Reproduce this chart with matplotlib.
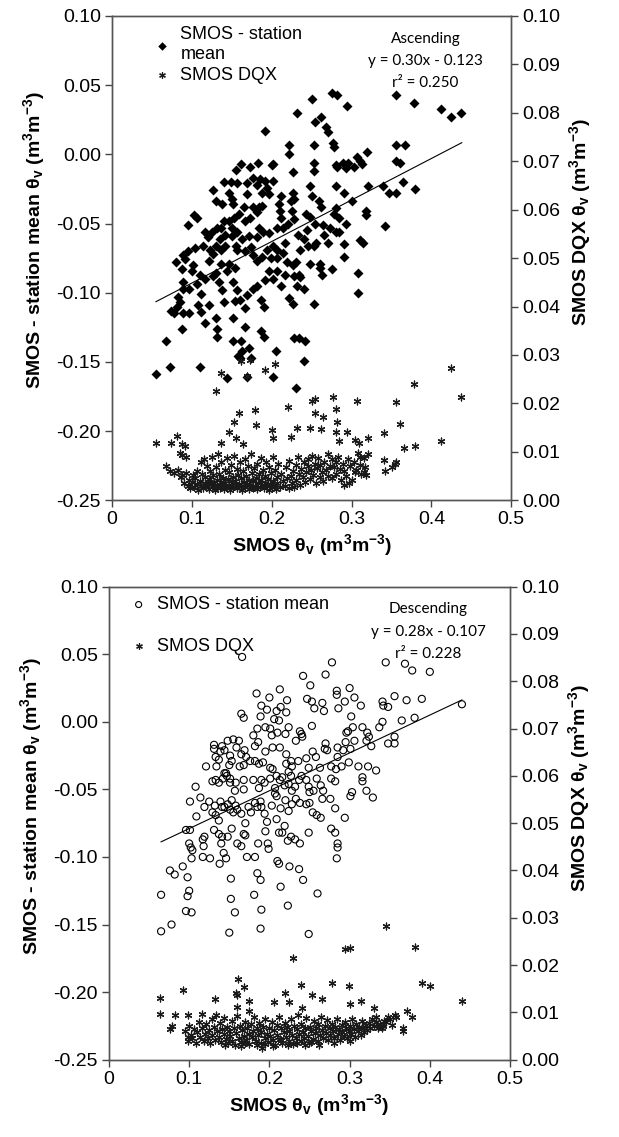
import numpy as np
import matplotlib.pyplot as plt
from matplotlib.ticker import FuncFormatter

plt.rcParams['font.family'] = ['Liberation Sans', 'DejaVu Sans']
plt.rcParams['mathtext.fontset'] = 'custom'
plt.rcParams['mathtext.rm'] = 'Liberation Sans:bold'
plt.rcParams['mathtext.it'] = 'Liberation Sans:bold'
plt.rcParams['mathtext.bf'] = 'Liberation Sans:bold'
plt.rcParams['mathtext.default'] = 'rm'

# ---- ascending: SMOS - station mean (x, y)
asc_mean = np.array([
    (0.251, 0.040), (0.275, 0.044), (0.282, 0.043), (0.294, 0.035), (0.232, 0.030),
    (0.262, 0.027), (0.254, 0.023), (0.268, 0.020), (0.271, 0.016), (0.191, 0.017),
    (0.356, 0.043), (0.378, 0.037), (0.412, 0.033), (0.425, 0.027), (0.437, 0.030),
    (0.355, 0.007), (0.367, 0.007), (0.221, 0.007), (0.253, 0.007), (0.277, 0.008),
    (0.278, 0.005), (0.221, 0.000), (0.227, -0.013), (0.253, -0.006), (0.253, -0.012),
    (0.280, -0.008), (0.282, -0.009), (0.289, -0.006), (0.293, -0.010), (0.296, -0.006),
    (0.303, -0.009), (0.307, -0.002), (0.310, -0.005), (0.313, -0.007), (0.319, 0.002),
    (0.321, -0.023), (0.339, -0.023), (0.347, -0.028), (0.356, -0.028), (0.355, -0.005),
    (0.360, -0.006), (0.365, -0.020), (0.380, -0.025), (0.342, -0.052), (0.310, -0.062),
    (0.314, -0.064), (0.318, -0.041), (0.318, -0.044), (0.308, -0.086), (0.308, -0.100),
    (0.300, -0.034), (0.290, -0.028), (0.293, -0.050), (0.291, -0.065), (0.291, -0.074),
    (0.281, -0.023), (0.280, -0.039), (0.278, -0.043), (0.284, -0.046), (0.281, -0.056),
    (0.284, -0.056), (0.271, -0.064), (0.273, -0.053), (0.275, -0.083), (0.264, -0.051),
    (0.266, -0.058), (0.262, -0.038), (0.259, -0.034), (0.251, -0.030), (0.248, -0.023),
    (0.254, -0.050), (0.253, -0.066), (0.256, -0.064), (0.248, -0.045), (0.243, -0.043),
    (0.244, -0.055), (0.241, -0.061), (0.233, -0.058), (0.228, -0.047), (0.226, -0.028),
    (0.224, -0.034), (0.228, -0.032), (0.225, -0.041), (0.220, -0.050), (0.212, -0.046),
    (0.210, -0.041), (0.209, -0.036), (0.211, -0.030), (0.201, -0.019), (0.200, -0.008),
    (0.202, -0.007), (0.183, -0.006), (0.173, -0.009), (0.161, -0.007), (0.155, -0.011),
    (0.140, -0.020), (0.149, -0.020), (0.156, -0.021), (0.126, -0.026), (0.130, -0.034),
    (0.138, -0.036), (0.147, -0.028), (0.150, -0.032), (0.152, -0.036), (0.169, -0.021),
    (0.169, -0.029), (0.165, -0.038), (0.177, -0.017), (0.181, -0.022), (0.185, -0.018),
    (0.188, -0.028), (0.191, -0.019), (0.194, -0.024), (0.196, -0.029), (0.188, -0.037),
    (0.184, -0.038), (0.182, -0.042), (0.176, -0.038), (0.173, -0.046), (0.167, -0.048),
    (0.159, -0.043), (0.153, -0.046), (0.147, -0.048), (0.140, -0.048), (0.137, -0.053),
    (0.131, -0.053), (0.125, -0.056), (0.116, -0.056), (0.107, -0.046), (0.103, -0.044),
    (0.095, -0.051), (0.120, -0.060), (0.123, -0.069), (0.114, -0.066), (0.104, -0.068),
    (0.095, -0.070), (0.089, -0.073), (0.080, -0.078), (0.091, -0.076), (0.101, -0.080),
    (0.087, -0.083), (0.100, -0.084), (0.089, -0.092), (0.089, -0.097), (0.083, -0.103),
    (0.085, -0.107), (0.081, -0.110), (0.074, -0.113), (0.078, -0.115), (0.089, -0.115),
    (0.097, -0.115), (0.088, -0.126), (0.068, -0.135), (0.073, -0.154), (0.055, -0.159),
    (0.110, -0.087), (0.116, -0.090), (0.106, -0.094), (0.096, -0.097), (0.112, -0.101),
    (0.108, -0.109), (0.122, -0.109), (0.112, -0.114), (0.116, -0.122), (0.130, -0.118),
    (0.131, -0.126), (0.131, -0.132), (0.110, -0.154), (0.127, -0.088), (0.134, -0.092),
    (0.138, -0.098), (0.140, -0.107), (0.144, -0.084), (0.147, -0.079), (0.154, -0.082),
    (0.152, -0.092), (0.157, -0.098), (0.154, -0.106), (0.160, -0.105), (0.151, -0.118),
    (0.152, -0.135), (0.166, -0.125), (0.162, -0.135), (0.163, -0.142), (0.160, -0.147),
    (0.158, -0.146), (0.174, -0.147), (0.172, -0.140), (0.169, -0.161), (0.144, -0.162),
    (0.167, -0.111), (0.169, -0.102), (0.177, -0.097), (0.182, -0.095), (0.187, -0.105),
    (0.190, -0.110), (0.187, -0.128), (0.190, -0.132), (0.205, -0.142), (0.202, -0.161),
    (0.228, -0.133), (0.234, -0.133), (0.242, -0.135), (0.240, -0.149), (0.230, -0.169),
    (0.253, -0.108), (0.240, -0.097), (0.232, -0.095), (0.221, -0.104), (0.226, -0.108),
    (0.211, -0.095), (0.201, -0.090), (0.206, -0.084), (0.196, -0.084), (0.191, -0.091),
    (0.188, -0.074), (0.181, -0.077), (0.177, -0.073), (0.174, -0.067), (0.167, -0.070),
    (0.157, -0.069), (0.163, -0.061), (0.171, -0.059), (0.182, -0.060), (0.184, -0.053),
    (0.189, -0.056), (0.196, -0.057), (0.201, -0.066), (0.206, -0.069), (0.214, -0.071),
    (0.219, -0.078), (0.226, -0.080), (0.230, -0.078), (0.234, -0.087), (0.236, -0.089),
    (0.228, -0.088), (0.216, -0.087), (0.206, -0.075), (0.199, -0.075), (0.194, -0.069),
    (0.206, -0.053), (0.214, -0.053), (0.217, -0.064), (0.236, -0.069), (0.246, -0.066),
    (0.248, -0.079), (0.261, -0.082), (0.263, -0.087), (0.261, -0.079), (0.142, -0.066),
    (0.137, -0.069), (0.135, -0.061), (0.130, -0.066), (0.127, -0.072), (0.122, -0.077),
    (0.137, -0.079), (0.130, -0.086), (0.150, -0.059), (0.155, -0.066), (0.157, -0.056),
    (0.150, -0.053), (0.142, -0.058),
])

# ---- ascending: SMOS DQX (x, dqx)
asc_dqx = np.array([
    (0.130, 0.0226), (0.136, 0.0263), (0.173, 0.0289), (0.162, 0.0287), (0.169, 0.0256),
    (0.192, 0.0268), (0.204, 0.0282), (0.425, 0.0274), (0.378, 0.0241), (0.437, 0.0214),
    (0.220, 0.0193), (0.251, 0.0204), (0.254, 0.0209), (0.277, 0.0213), (0.307, 0.0204),
    (0.356, 0.0203), (0.159, 0.0181), (0.179, 0.0186), (0.254, 0.0181), (0.264, 0.0171),
    (0.280, 0.0189), (0.153, 0.0162), (0.180, 0.0156), (0.282, 0.0162), (0.360, 0.0158),
    (0.146, 0.0140), (0.155, 0.0129), (0.200, 0.0145), (0.201, 0.0128), (0.232, 0.0149),
    (0.248, 0.0149), (0.262, 0.0147), (0.224, 0.0130), (0.281, 0.0140), (0.294, 0.0140),
    (0.284, 0.0123), (0.304, 0.0125), (0.321, 0.0128), (0.309, 0.0119), (0.340, 0.0138),
    (0.366, 0.0108), (0.380, 0.0112), (0.412, 0.0122), (0.055, 0.0119), (0.074, 0.0118),
    (0.081, 0.0133), (0.088, 0.0116), (0.091, 0.0112), (0.136, 0.0119), (0.164, 0.0116),
    (0.088, 0.0094), (0.093, 0.0090), (0.085, 0.0097), (0.068, 0.0071), (0.078, 0.0057),
    (0.088, 0.0053), (0.073, 0.0060), (0.340, 0.0083), (0.342, 0.0060), (0.350, 0.0068),
    (0.354, 0.0075), (0.356, 0.0079),
    (0.083, 0.0062), (0.086, 0.0048), (0.090, 0.0035), (0.092, 0.0056), (0.095, 0.0030),
    (0.097, 0.0042), (0.098, 0.0025), (0.100, 0.0038), (0.101, 0.0052), (0.103, 0.0028),
    (0.104, 0.0045), (0.106, 0.0033), (0.107, 0.0060), (0.108, 0.0022), (0.110, 0.0040),
    (0.111, 0.0078), (0.112, 0.0030), (0.113, 0.0055), (0.114, 0.0025), (0.115, 0.0085),
    (0.116, 0.0036), (0.117, 0.0048), (0.118, 0.0028), (0.119, 0.0070), (0.120, 0.0033),
    (0.121, 0.0043), (0.122, 0.0024), (0.123, 0.0060), (0.124, 0.0038), (0.125, 0.0090),
    (0.126, 0.0029), (0.127, 0.0052), (0.128, 0.0035), (0.129, 0.0022), (0.130, 0.0068),
    (0.131, 0.0041), (0.132, 0.0030), (0.133, 0.0095), (0.134, 0.0055), (0.135, 0.0026),
    (0.136, 0.0037), (0.137, 0.0080), (0.138, 0.0032), (0.139, 0.0047), (0.140, 0.0024),
    (0.141, 0.0062), (0.142, 0.0035), (0.143, 0.0028), (0.144, 0.0088), (0.145, 0.0044),
    (0.146, 0.0030), (0.147, 0.0058), (0.148, 0.0022), (0.149, 0.0072), (0.150, 0.0036),
    (0.151, 0.0049), (0.152, 0.0027), (0.153, 0.0092), (0.154, 0.0040), (0.155, 0.0031),
    (0.156, 0.0065), (0.157, 0.0025), (0.158, 0.0053), (0.159, 0.0034), (0.160, 0.0078),
    (0.161, 0.0029), (0.162, 0.0045), (0.163, 0.0022), (0.164, 0.0060), (0.165, 0.0038),
    (0.166, 0.0085), (0.167, 0.0027), (0.168, 0.0050), (0.169, 0.0033), (0.170, 0.0070),
    (0.171, 0.0024), (0.172, 0.0042), (0.173, 0.0031), (0.174, 0.0095), (0.175, 0.0056),
    (0.176, 0.0026), (0.177, 0.0039), (0.178, 0.0066), (0.179, 0.0030), (0.180, 0.0047),
    (0.181, 0.0023), (0.182, 0.0075), (0.183, 0.0035), (0.184, 0.0054), (0.185, 0.0028),
    (0.186, 0.0088), (0.187, 0.0041), (0.188, 0.0032), (0.189, 0.0062), (0.190, 0.0025),
    (0.191, 0.0050), (0.192, 0.0036), (0.193, 0.0080), (0.194, 0.0029), (0.195, 0.0044),
    (0.196, 0.0022), (0.197, 0.0068), (0.198, 0.0034), (0.199, 0.0057), (0.200, 0.0027),
    (0.201, 0.0090), (0.202, 0.0040), (0.203, 0.0030), (0.204, 0.0063), (0.205, 0.0024),
    (0.206, 0.0048), (0.207, 0.0035), (0.208, 0.0075), (0.210, 0.0028),
    (0.212, 0.0055), (0.214, 0.0040), (0.216, 0.0030), (0.218, 0.0068), (0.219, 0.0045),
    (0.221, 0.0025), (0.222, 0.0082), (0.224, 0.0050), (0.225, 0.0035), (0.227, 0.0060),
    (0.228, 0.0028), (0.230, 0.0072), (0.231, 0.0042), (0.233, 0.0090), (0.234, 0.0055),
    (0.236, 0.0032), (0.237, 0.0065), (0.239, 0.0048), (0.240, 0.0078), (0.242, 0.0038),
    (0.243, 0.0058), (0.245, 0.0085), (0.246, 0.0070), (0.248, 0.0044), (0.249, 0.0062),
    (0.251, 0.0092), (0.252, 0.0052), (0.254, 0.0075), (0.255, 0.0036), (0.257, 0.0066),
    (0.258, 0.0088), (0.260, 0.0048), (0.261, 0.0072), (0.263, 0.0058), (0.264, 0.0040),
    (0.266, 0.0080), (0.268, 0.0062), (0.270, 0.0095), (0.271, 0.0050), (0.273, 0.0070),
    (0.275, 0.0085), (0.276, 0.0045), (0.278, 0.0068), (0.280, 0.0078), (0.281, 0.0055),
    (0.283, 0.0090), (0.285, 0.0065), (0.287, 0.0042), (0.289, 0.0075), (0.291, 0.0060),
    (0.293, 0.0050), (0.296, 0.0085), (0.298, 0.0070), (0.300, 0.0042), (0.303, 0.0080),
    (0.305, 0.0062), (0.308, 0.0098), (0.310, 0.0072), (0.312, 0.0055), (0.315, 0.0088),
    (0.317, 0.0068), (0.318, 0.0052), (0.320, 0.0095), (0.297, 0.0035), (0.290, 0.0032),
    (0.304, 0.0058), (0.316, 0.0058), (0.311, 0.0090),
])

# ---- descending: SMOS - station mean (x, y)
desc_mean = np.array([
    (0.166, 0.048), (0.278, 0.044), (0.345, 0.044), (0.369, 0.043), (0.378, 0.038),
    (0.400, 0.037), (0.242, 0.034), (0.270, 0.035), (0.251, 0.027), (0.213, 0.024),
    (0.300, 0.025), (0.284, 0.023), (0.184, 0.021), (0.200, 0.018), (0.222, 0.016),
    (0.247, 0.017), (0.253, 0.015), (0.284, 0.020), (0.294, 0.015), (0.306, 0.018),
    (0.356, 0.019), (0.371, 0.016), (0.390, 0.017), (0.341, 0.015), (0.342, 0.012),
    (0.348, 0.011), (0.440, 0.013), (0.190, 0.012), (0.214, 0.011), (0.209, 0.008),
    (0.221, 0.007), (0.197, 0.009), (0.266, 0.014), (0.268, 0.008), (0.256, 0.010),
    (0.286, 0.010), (0.314, 0.012), (0.165, 0.006), (0.168, 0.003), (0.381, 0.003),
    (0.365, 0.001), (0.302, 0.004), (0.189, 0.004), (0.206, 0.002), (0.212, 0.001),
    (0.341, 0.000), (0.337, -0.004), (0.304, -0.004), (0.316, -0.004), (0.322, -0.008),
    (0.324, -0.011), (0.356, -0.011), (0.356, -0.016), (0.348, -0.016), (0.327, -0.018),
    (0.321, -0.014), (0.306, -0.014), (0.295, -0.015), (0.296, -0.008), (0.298, -0.007),
    (0.301, -0.020), (0.292, -0.021), (0.285, -0.019), (0.285, -0.026), (0.270, -0.016),
    (0.269, -0.020), (0.272, -0.021), (0.254, -0.022), (0.253, -0.003), (0.238, -0.007),
    (0.240, -0.009), (0.241, -0.011), (0.233, -0.014), (0.224, -0.004), (0.220, -0.009),
    (0.210, -0.008), (0.203, -0.010), (0.201, -0.005), (0.195, -0.004), (0.185, -0.005),
    (0.180, -0.010), (0.182, -0.018), (0.186, -0.015), (0.195, -0.022), (0.204, -0.019),
    (0.213, -0.019), (0.221, -0.024), (0.221, -0.031), (0.228, -0.033), (0.227, -0.029),
    (0.236, -0.029), (0.246, -0.027), (0.258, -0.026), (0.263, -0.034), (0.249, -0.034),
    (0.240, -0.040), (0.227, -0.040), (0.224, -0.037), (0.216, -0.041), (0.209, -0.040),
    (0.204, -0.035), (0.201, -0.034), (0.192, -0.030), (0.187, -0.031), (0.182, -0.029),
    (0.176, -0.029), (0.171, -0.026), (0.168, -0.032), (0.163, -0.033), (0.165, -0.024),
    (0.169, -0.021), (0.159, -0.019), (0.162, -0.014), (0.155, -0.013), (0.148, -0.014),
    (0.141, -0.018), (0.144, -0.021), (0.139, -0.022), (0.131, -0.017), (0.131, -0.020),
    (0.133, -0.026), (0.137, -0.028), (0.151, -0.025), (0.153, -0.029), (0.150, -0.032),
    (0.121, -0.033), (0.134, -0.033), (0.129, -0.044), (0.133, -0.043), (0.137, -0.045),
    (0.142, -0.042), (0.146, -0.038), (0.151, -0.042), (0.158, -0.045), (0.157, -0.051),
    (0.168, -0.043), (0.168, -0.050), (0.180, -0.043), (0.190, -0.043), (0.187, -0.049),
    (0.194, -0.045), (0.201, -0.042), (0.207, -0.049), (0.213, -0.043), (0.219, -0.047),
    (0.224, -0.046), (0.228, -0.051), (0.232, -0.048), (0.237, -0.043), (0.246, -0.043),
    (0.249, -0.048), (0.250, -0.052), (0.255, -0.051), (0.259, -0.042), (0.264, -0.047),
    (0.267, -0.051), (0.277, -0.042), (0.282, -0.044), (0.303, -0.052), (0.301, -0.055),
    (0.316, -0.041), (0.316, -0.044), (0.321, -0.051), (0.329, -0.056), (0.333, -0.036),
    (0.323, -0.033), (0.311, -0.033), (0.299, -0.030), (0.290, -0.033), (0.283, -0.035),
    (0.277, -0.033), (0.101, -0.059), (0.108, -0.048), (0.114, -0.056), (0.119, -0.063),
    (0.125, -0.059), (0.129, -0.067), (0.132, -0.062), (0.133, -0.069), (0.137, -0.073),
    (0.141, -0.063), (0.144, -0.063), (0.148, -0.061), (0.151, -0.065), (0.155, -0.067),
    (0.160, -0.065), (0.165, -0.068), (0.170, -0.075), (0.177, -0.067), (0.185, -0.063),
    (0.190, -0.063), (0.194, -0.068), (0.197, -0.074), (0.203, -0.062), (0.209, -0.072),
    (0.214, -0.064), (0.220, -0.058), (0.224, -0.066), (0.228, -0.061), (0.233, -0.057),
    (0.238, -0.060), (0.246, -0.061), (0.250, -0.060), (0.254, -0.067), (0.259, -0.069),
    (0.264, -0.071), (0.266, -0.057), (0.276, -0.057), (0.282, -0.064), (0.294, -0.071),
    (0.109, -0.070), (0.101, -0.080), (0.096, -0.080), (0.100, -0.090), (0.102, -0.093),
    (0.104, -0.095), (0.103, -0.101), (0.117, -0.087), (0.119, -0.085), (0.118, -0.092),
    (0.117, -0.100), (0.126, -0.101), (0.131, -0.080), (0.137, -0.083), (0.141, -0.085),
    (0.140, -0.090), (0.143, -0.097), (0.146, -0.101), (0.138, -0.105), (0.148, -0.085),
    (0.153, -0.079), (0.160, -0.090), (0.165, -0.092), (0.168, -0.083), (0.170, -0.084),
    (0.172, -0.100), (0.182, -0.100), (0.186, -0.090), (0.198, -0.090), (0.199, -0.094),
    (0.195, -0.081), (0.212, -0.082), (0.216, -0.082), (0.219, -0.077), (0.223, -0.088),
    (0.227, -0.085), (0.232, -0.087), (0.238, -0.090), (0.249, -0.082), (0.277, -0.079),
    (0.282, -0.082), (0.285, -0.090), (0.285, -0.093), (0.284, -0.101), (0.210, -0.103),
    (0.212, -0.105), (0.225, -0.107), (0.237, -0.109), (0.242, -0.117), (0.185, -0.112),
    (0.189, -0.117), (0.214, -0.122), (0.152, -0.116), (0.181, -0.128), (0.223, -0.136),
    (0.260, -0.127), (0.157, -0.141), (0.152, -0.131), (0.190, -0.139), (0.100, -0.125),
    (0.098, -0.129), (0.098, -0.115), (0.076, -0.110), (0.082, -0.113), (0.092, -0.107),
    (0.096, -0.140), (0.103, -0.141), (0.065, -0.128), (0.065, -0.155), (0.078, -0.150),
    (0.150, -0.156), (0.189, -0.153), (0.249, -0.157), (0.144, -0.038), (0.147, -0.040),
    (0.151, -0.045), (0.139, -0.059), (0.153, -0.058), (0.158, -0.062), (0.174, -0.063),
    (0.182, -0.060), (0.189, -0.059), (0.207, -0.053), (0.209, -0.055),
])

# ---- descending: SMOS DQX (x, dqx)
desc_dqx = np.array([
    (0.345, 0.0282), (0.294, 0.0233), (0.300, 0.0237), (0.382, 0.0238), (0.230, 0.0214),
    (0.161, 0.0171), (0.168, 0.0153), (0.158, 0.0140), (0.160, 0.0137), (0.092, 0.0148),
    (0.240, 0.0157), (0.278, 0.0163), (0.299, 0.0155), (0.390, 0.0163), (0.400, 0.0156),
    (0.440, 0.0125), (0.064, 0.0131), (0.219, 0.0140), (0.253, 0.0137), (0.132, 0.0128),
    (0.174, 0.0125), (0.206, 0.0123), (0.225, 0.0123), (0.265, 0.0128), (0.314, 0.0124),
    (0.301, 0.0117), (0.241, 0.0110), (0.160, 0.0112), (0.175, 0.0103), (0.330, 0.0110),
    (0.371, 0.0103), (0.378, 0.0091), (0.356, 0.0095), (0.064, 0.0097), (0.082, 0.0095),
    (0.098, 0.0095), (0.116, 0.0097), (0.078, 0.0072), (0.076, 0.0065), (0.098, 0.0049),
    (0.366, 0.0068), (0.367, 0.0061), (0.340, 0.0068), (0.343, 0.0082), (0.333, 0.0090),
    (0.348, 0.0091),
    (0.095, 0.0060), (0.098, 0.0040), (0.100, 0.0072), (0.102, 0.0052), (0.104, 0.0045),
    (0.106, 0.0065), (0.108, 0.0035), (0.110, 0.0058), (0.112, 0.0080), (0.114, 0.0048),
    (0.116, 0.0068), (0.118, 0.0040), (0.120, 0.0055), (0.121, 0.0075), (0.123, 0.0045),
    (0.125, 0.0062), (0.126, 0.0035), (0.128, 0.0085), (0.129, 0.0052), (0.131, 0.0070),
    (0.132, 0.0042), (0.134, 0.0095), (0.135, 0.0060), (0.137, 0.0048), (0.138, 0.0078),
    (0.140, 0.0038), (0.141, 0.0065), (0.143, 0.0055), (0.144, 0.0088), (0.146, 0.0044),
    (0.147, 0.0070), (0.149, 0.0035), (0.150, 0.0060), (0.151, 0.0050), (0.153, 0.0082),
    (0.154, 0.0040), (0.156, 0.0066), (0.157, 0.0030), (0.159, 0.0056), (0.160, 0.0092),
    (0.162, 0.0046), (0.163, 0.0072), (0.165, 0.0038), (0.166, 0.0062), (0.168, 0.0050),
    (0.169, 0.0080), (0.171, 0.0042), (0.172, 0.0068), (0.174, 0.0055), (0.175, 0.0034),
    (0.177, 0.0075), (0.178, 0.0048), (0.180, 0.0060), (0.181, 0.0090), (0.183, 0.0040),
    (0.184, 0.0066), (0.186, 0.0052), (0.187, 0.0078), (0.189, 0.0036), (0.190, 0.0058),
    (0.191, 0.0025), (0.192, 0.0070), (0.194, 0.0045), (0.195, 0.0085), (0.197, 0.0055),
    (0.198, 0.0038), (0.200, 0.0068), (0.201, 0.0050), (0.203, 0.0080), (0.204, 0.0042),
    (0.206, 0.0062), (0.207, 0.0032), (0.209, 0.0074), (0.210, 0.0052), (0.212, 0.0090),
    (0.213, 0.0044), (0.215, 0.0066), (0.216, 0.0036), (0.218, 0.0058), (0.219, 0.0078),
    (0.221, 0.0048), (0.222, 0.0070), (0.224, 0.0040), (0.225, 0.0060), (0.227, 0.0085),
    (0.228, 0.0052), (0.230, 0.0034), (0.231, 0.0072), (0.233, 0.0046), (0.234, 0.0064),
    (0.236, 0.0095), (0.237, 0.0054), (0.239, 0.0040), (0.240, 0.0076), (0.242, 0.0058),
    (0.243, 0.0045), (0.245, 0.0068), (0.246, 0.0088), (0.248, 0.0050), (0.249, 0.0036),
    (0.251, 0.0070), (0.252, 0.0060), (0.254, 0.0044), (0.255, 0.0082), (0.257, 0.0056),
    (0.258, 0.0066), (0.260, 0.0040), (0.261, 0.0075), (0.263, 0.0052), (0.264, 0.0090),
    (0.266, 0.0062), (0.267, 0.0046), (0.269, 0.0072), (0.270, 0.0056), (0.272, 0.0084),
    (0.273, 0.0042), (0.275, 0.0066), (0.276, 0.0052), (0.278, 0.0076), (0.279, 0.0060),
    (0.281, 0.0045), (0.282, 0.0070), (0.284, 0.0086), (0.285, 0.0055), (0.287, 0.0064),
    (0.288, 0.0042), (0.290, 0.0074), (0.291, 0.0058), (0.293, 0.0050), (0.294, 0.0080),
    (0.296, 0.0066), (0.297, 0.0046), (0.299, 0.0060), (0.300, 0.0072), (0.302, 0.0054),
    (0.303, 0.0085), (0.305, 0.0064), (0.307, 0.0048), (0.308, 0.0076), (0.310, 0.0060),
    (0.312, 0.0070), (0.314, 0.0052), (0.315, 0.0082), (0.317, 0.0066), (0.318, 0.0058),
    (0.320, 0.0074), (0.322, 0.0062), (0.324, 0.0078), (0.326, 0.0068), (0.328, 0.0085),
    (0.330, 0.0072), (0.333, 0.0080), (0.336, 0.0068), (0.338, 0.0076), (0.342, 0.0072),
    (0.345, 0.0080), (0.350, 0.0085), (0.353, 0.0074), (0.358, 0.0090), (0.145, 0.0030),
    (0.165, 0.0028), (0.185, 0.0030), (0.205, 0.0028), (0.223, 0.0030), (0.245, 0.0030),
    (0.262, 0.0032), (0.280, 0.0036), (0.300, 0.0040), (0.170, 0.0036), (0.195, 0.0033),
    (0.215, 0.0042), (0.235, 0.0036), (0.252, 0.0038),
])

# regression fits shown on the chart: slope, intercept, r2, x range
asc_fit = (0.30, -0.123, 0.250, 0.055, 0.438)
desc_fit = (0.28, -0.107, 0.228, 0.065, 0.440)

cross = (6, 2, 0)
lab_x = r'SMOS $\theta_v$ (m$^3$m$^{-3}$)'
lab_y = r'SMOS - station mean $\theta_v$ (m$^3$m$^{-3}$)'
lab_y2 = r'SMOS DQX $\theta_v$ (m$^3$m$^{-3}$)'


def fmt2(v, p):
    if abs(v) < 1e-9:
        v = 0.0
    return '%.2f' % v


def fmt1(v, p):
    if abs(v) < 1e-9:
        return '0'
    return '%.1f' % v


def panel(rect, mean_pts, dqx_pts, fit, name, marker, filled, mean_label,
          leg_space, leg_anchor, note_x):
    ax = fig.add_axes(rect)
    ax2 = ax.twinx()
    if filled:
        h1 = ax.scatter(mean_pts[:, 0], mean_pts[:, 1], marker=marker, s=26,
                        color='black', linewidths=0)
    else:
        h1 = ax.scatter(mean_pts[:, 0], mean_pts[:, 1], marker=marker, s=26,
                        facecolors='none', edgecolors='black', linewidths=0.8)
    xs = np.array([fit[3], fit[4]])
    ax.plot(xs, fit[0] * xs + fit[1], color='black', lw=0.8)
    h2 = ax2.scatter(dqx_pts[:, 0], dqx_pts[:, 1], marker=cross, s=24,
                     color='#1a1a1a', linewidths=0.9)

    ax.set_xlim(0, 0.5)
    ax.set_ylim(-0.25, 0.10)
    ax2.set_ylim(0, 0.10)
    ax.set_xticks(np.arange(0, 0.51, 0.1))
    ax.set_yticks(np.arange(-0.25, 0.101, 0.05))
    ax2.set_yticks(np.arange(0, 0.1001, 0.01))
    ax.xaxis.set_major_formatter(FuncFormatter(fmt1))
    ax.yaxis.set_major_formatter(FuncFormatter(fmt2))
    ax2.yaxis.set_major_formatter(FuncFormatter(fmt2))
    for a in (ax, ax2):
        a.tick_params(direction='out', length=5, width=1, labelsize=14, color='#444444', pad=3)
        for sp in a.spines.values():
            sp.set_color('#555555')
            sp.set_linewidth(1)
    ax.set_xlabel(lab_x, fontsize=14, fontweight='bold', labelpad=3)
    ax.set_ylabel(lab_y, fontsize=14, fontweight='bold')
    ax2.set_ylabel(lab_y2, fontsize=14, fontweight='bold')
    ax.yaxis.set_label_coords(-0.163, 0.537)
    ax2.yaxis.set_label_coords(1.140, 0.574)

    ax2.text(note_x, 0.967, '%s\ny = %.2fx - %.3f\nr² = %.3f' % (name, fit[0], -fit[1], fit[2]),
             transform=ax.transAxes, ha='center', va='top', fontsize=11,
             family=['Lato', 'DejaVu Sans'], linespacing=1.75)
    leg = ax2.legend([h1, h2], [mean_label, 'SMOS DQX'], loc='upper left',
                     bbox_to_anchor=leg_anchor, frameon=False, fontsize=13,
                     handlelength=0.8, handletextpad=0.6, labelspacing=leg_space,
                     borderaxespad=0, markerscale=0.85)
    for t in leg.get_texts():
        t.set_linespacing(1.3)
    return ax


fig = plt.figure(figsize=(6.19, 11.37), dpi=100)
panel([0.181, 0.560, 0.645, 0.426], asc_mean, asc_dqx, asc_fit, 'Ascending', 'D', True,
      'SMOS - station\nmean', 0.2, (0.09, 0.995), 0.785)
panel([0.176, 0.068, 0.648, 0.416], desc_mean, desc_dqx, desc_fit, 'Descending', 'o', False,
      'SMOS - station mean', 1.35, (0.038, 0.995), 0.796)

fig.savefig('out.png', dpi=100)
